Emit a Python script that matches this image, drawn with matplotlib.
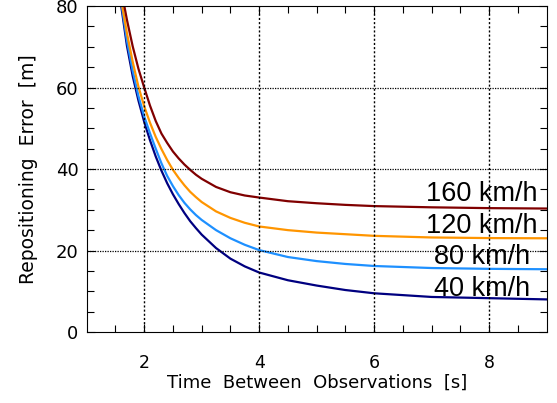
import numpy as np
import matplotlib.pyplot as plt

# time between observations [s]
t = [1.6, 1.7, 1.8, 1.9, 2.0, 2.1, 2.2, 2.3, 2.4, 2.5, 2.6, 2.7, 2.8, 2.9, 3.0,
     3.25, 3.5, 3.75, 4.0, 4.5, 5.0, 5.5, 6.0, 7.0, 8.0, 9.0]

# repositioning error [m]
err_40 = [80.0, 70.2, 62.8, 56.8, 51.6, 47.1, 43.1, 39.6, 36.5, 33.8, 31.4, 29.2, 27.2, 25.5, 23.9,
          20.6, 18.0, 16.1, 14.6, 12.7, 11.4, 10.3, 9.5, 8.6, 8.3, 8.0]
err_80 = [81.0, 71.5, 64.1, 57.9, 52.9, 48.8, 45.0, 41.4, 38.3, 35.8, 33.6, 31.7, 30.1, 28.7, 27.5,
          25.0, 23.0, 21.4, 20.1, 18.4, 17.4, 16.7, 16.2, 15.7, 15.5, 15.4]
err_120 = [81.5, 73.3, 66.3, 60.2, 55.4, 51.4, 47.9, 44.9, 42.2, 39.8, 37.8, 36.0, 34.4, 33.1, 31.9,
           29.6, 28.0, 26.8, 25.9, 25.0, 24.4, 24.0, 23.6, 23.2, 23.05, 23.0]
err_160 = [84.0, 76.6, 70.1, 64.6, 60.0, 55.6, 51.8, 48.7, 46.4, 44.3, 42.6, 41.1, 39.8, 38.6, 37.6,
           35.6, 34.3, 33.5, 33.0, 32.1, 31.6, 31.2, 30.9, 30.6, 30.4, 30.3]

speeds = ['40 km/h', '80 km/h', '120 km/h', '160 km/h']
colors = ['#000080', '#1E90FF', '#FF9500', '#800000']
label_y = [8.8, 16.6, 24.4, 32.1]

fig = plt.figure(figsize=(5.57, 4.03), dpi=100)
ax = fig.add_axes([0.1557, 0.1762, 0.8255, 0.8088])

for errs, c in zip([err_40, err_80, err_120, err_160], colors):
    ax.plot(t, errs, color=c, lw=1.6, solid_joinstyle='round')

for s, yl in zip(speeds, label_y):
    ax.text(7.875, yl, s, ha='center', va='baseline', fontsize=19.5,
            family='Liberation Sans', color='black')

for xv in [2, 4, 6, 8]:
    ax.axvline(xv, color='black', ls=(0, (1.5, 1.5)), lw=1)
for yv in [20, 40, 60]:
    ax.axhline(yv, color='black', ls=(0, (1, 1)), lw=0.9)

ax.set_xlim(1, 9)
ax.set_ylim(0, 80)
ax.set_xticks([2, 4, 6, 8])
ax.set_yticks([0, 20, 40, 60, 80])
ax.set_xticks(np.arange(1.5, 9, 0.5), minor=True)
ax.set_yticks(np.arange(5, 80, 5), minor=True)
ax.tick_params(which='both', direction='in', top=True, right=True, width=0.8)
ax.tick_params(which='major', length=6)
ax.tick_params(which='minor', length=5)
ax.tick_params(axis='x', which='major', pad=16, labelsize=12.5)
ax.tick_params(axis='y', which='major', pad=6, labelsize=13)

ax.set_xlabel('Time  Between  Observations  [s]', fontsize=13, labelpad=1)
ax.set_ylabel('Repositioning  Error  [m]', fontsize=13.5, labelpad=13)

plt.savefig('out.png', dpi=100)
